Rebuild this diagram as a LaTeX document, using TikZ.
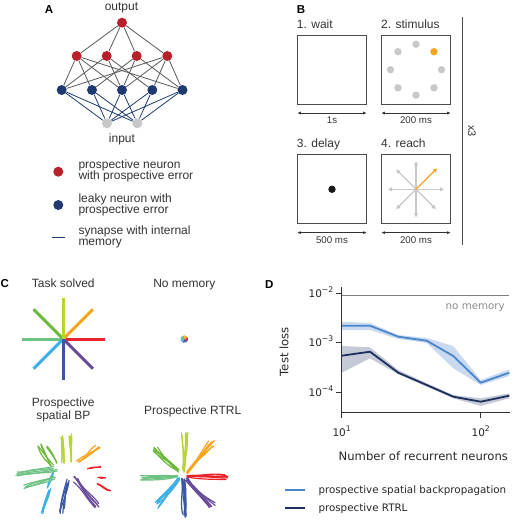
\documentclass[tikz,border=0pt]{standalone}
\usepackage{fontspec}
\setmainfont{Liberation Sans}
\newfontfamily\dejavu{DejaVu Sans}
\usetikzlibrary{arrows.meta,calc}
\definecolor{nred}{HTML}{B8202A}
\definecolor{nblue}{HTML}{1F3A70}
\definecolor{ngray}{HTML}{C8C8C8}
\definecolor{txt}{HTML}{333333}
\definecolor{dtxt}{HTML}{262626}
\definecolor{cor}{HTML}{F7A521}
\definecolor{clime}{HTML}{B6D433}
\definecolor{cgreen}{HTML}{6CB93E}
\definecolor{cmint}{HTML}{6EC283}
\definecolor{cred}{HTML}{E8232A}
\definecolor{cpurple}{HTML}{6B4C9A}
\definecolor{cdblue}{HTML}{3A56A5}
\definecolor{clblue}{HTML}{3BB0E5}
\definecolor{bpline}{HTML}{4A86CC}
\definecolor{bpband}{HTML}{C9DAF0}
\definecolor{rtline}{HTML}{1C2F5E}
\definecolor{rtband}{HTML}{C5CAD7}
\newcommand{\tpow}[1]{10\raisebox{0.45em}{\fontsize{7.7}{8}\selectfont #1}}
% color, x1, y1, x2, y2, start spread, end spread, count
\newcommand{\bund}[8]{%
  \foreach \k in {1,...,#8}{%
    \pgfmathsetmacro{\ax}{#2+#6*rand}%
    \pgfmathsetmacro{\ay}{#3+#6*rand}%
    \pgfmathsetmacro{\bx}{#4+#7*rand}%
    \pgfmathsetmacro{\by}{#5+#7*rand}%
    \pgfmathsetmacro{\cxa}{\ax+0.33*(\bx-\ax)+2.6*rand}%
    \pgfmathsetmacro{\cya}{\ay+0.33*(\by-\ay)+2.6*rand}%
    \pgfmathsetmacro{\cxb}{\ax+0.67*(\bx-\ax)+2.6*rand}%
    \pgfmathsetmacro{\cyb}{\ay+0.67*(\by-\ay)+2.6*rand}%
    \draw[scrib,#1] (\ax,\ay) .. controls (\cxa,\cya) and (\cxb,\cyb) .. (\bx,\by);
  }}
\begin{document}
\begin{tikzpicture}[x=1pt,y=-1pt,
  neuron/.style={circle,inner sep=0pt,minimum size=10pt},
  rn/.style={neuron,fill=nred},
  bn/.style={neuron,fill=nblue},
  gn/.style={neuron,fill=ngray},
  lbl/.style={font=\fontsize{12}{14}\selectfont,text=txt,inner sep=0pt},
  small/.style={font=\fontsize{9.7}{11}\selectfont,text=txt,inner sep=0pt},
  panel/.style={font=\bfseries\fontsize{11.5}{13}\selectfont,inner sep=0pt,text=black},
  wgt/.style={draw=black!65, line width=0.8pt},
  syn/.style={draw=nblue, line width=0.8pt},
  taskbox/.style={draw=black!70, line width=1.1pt, minimum size=69pt, inner sep=0pt},
  durarrow/.style={{Latex[length=4pt,width=3pt]}-{Latex[length=4pt,width=3pt]}, line width=0.8pt, draw=txt},
  reacharrow/.style={-{Triangle[length=4pt,width=4pt]}, line width=1.2pt, draw=ngray},
  ray/.style={line width=3pt},
  scrib/.style={line width=1.2pt, line cap=round},
  dlbl/.style={font=\dejavu\fontsize{11.6}{13}\selectfont,text=dtxt,inner sep=0pt},
  dtick/.style={font=\dejavu\fontsize{10.5}{12}\selectfont,text=dtxt,inner sep=0pt},
  dleg/.style={font=\dejavu\fontsize{10.3}{12}\selectfont,text=dtxt,inner sep=0pt},
  spine/.style={draw=black!80, line width=0.9pt}
]
\useasboundingbox (0,0) rectangle (519,523);

% ---------------- Panel A ----------------
\node[panel,anchor=base] (pA) at (49,13) {A};
\node[lbl,anchor=base] (tout) at (121.5,10.5) {output};
\node[rn] (o) at (122,22.7) {};
\node[rn] (r1) at (76.7,56) {};
\node[rn] (r2) at (106.7,56) {};
\node[rn] (r3) at (136.7,56) {};
\node[rn] (r4) at (167.3,56) {};
\node[bn] (b1) at (61.7,90) {};
\node[bn] (b2) at (92,90) {};
\node[bn] (b3) at (122,90) {};
\node[bn] (b4) at (152.3,90) {};
\node[bn] (b5) at (182.5,90) {};
\node[gn] (i1) at (107,123.3) {};
\node[gn] (i2) at (137.3,123.3) {};
\node[lbl,anchor=base] (tin) at (122,142.5) {input};
\foreach \r in {r1,r2,r3,r4} \draw[wgt] (o) -- (\r);
\foreach \r/\b in {r1/b1,r1/b2,r1/b3,r1/b5,r2/b1,r2/b3,r2/b4,r3/b2,r3/b3,r3/b5,r4/b1,r4/b3,r4/b4,r4/b5}
  \draw[wgt] (\r) -- (\b);
\foreach \b in {b1,b2,b3,b4,b5} {\draw[syn] (\b) -- (i1); \draw[syn] (\b) -- (i2);}

% legend A
\node[rn] (lr) at (58.3,171.7) {};
\node[lbl,anchor=base west] (l1) at (78.3,168.2) {prospective neuron};
\node[lbl,anchor=base west] (l2) at (78.3,179) {with prospective error};
\node[bn] (lb) at (58.3,205) {};
\node[lbl,anchor=base west] (l3) at (78.3,202.5) {leaky neuron with};
\node[lbl,anchor=base west] (l4) at (78.3,213.8) {prospective error};
\coordinate (ls1) at (51.7,237.7);
\coordinate (ls2) at (65,237.7);
\draw[syn] (ls1) -- (ls2);
\node[lbl,anchor=base west] (l5) at (78.3,234.2) {synapse with internal};
\node[lbl,anchor=base west] (l6) at (78.3,245.8) {memory};

% ---------------- Panel B ----------------
\node[panel,anchor=base] (pB) at (301,13) {B};
\node[lbl,anchor=base west] (tw) at (296.7,28.3) {1. wait};
\node[lbl,anchor=base west] (ts) at (381,28.3) {2. stimulus};
\node[lbl,anchor=base west] (td) at (296.7,147.3) {3. delay};
\node[lbl,anchor=base west] (tr) at (381,147.3) {4. reach};
\node[taskbox] (bw) at (332,69.7) {};
\node[taskbox] (bs) at (416,69.7) {};
\node[taskbox] (bd) at (332,189.3) {};
\node[taskbox] (br) at (416,189.3) {};
\foreach \bx/\txt in {bw/1s,bs/200 ms,bd/500 ms,br/200 ms}{
  \draw[durarrow] ([yshift=-8.3pt]\bx.south west) -- ([yshift=-8.3pt]\bx.south east);
  \node[small,anchor=base] at ([yshift=-19pt]\bx.south) {\txt};
}
% stimulus dots
\foreach \a in {0,45,90,135,180,225,270}
  \fill[ngray] ($(bs.center)+(\a:25.5)$) circle[radius=3.7pt];
\fill[cor] ($(bs.center)+(-45:25.5)$) circle[radius=3.7pt];
% delay dot
\fill[black!90] (bd.center) circle[radius=3.7pt];
% reach arrows
\foreach \a in {0,45,90,135,180,225,270}
  \draw[reacharrow] (br.center) -- ++(\a:28);
\draw[reacharrow,draw=cor] (br.center) -- ++(-45:29.7);
% separator
\coordinate (vs1) at (462.3,17);
\coordinate (vs2) at (462.3,245);
\draw[draw=black!70,line width=0.8pt] (vs1) -- (vs2);
\node[lbl,rotate=-90,font=\fontsize{11}{12}\selectfont] (x3) at (472,131) {x3};

% ---------------- Panel C ----------------
\node[panel,anchor=base west] (pC) at (0.5,287.3) {C};
\node[lbl,anchor=base] (tts) at (63.3,287.3) {Task solved};
\node[lbl,anchor=base] (tnm) at (184.3,287.3) {No memory};
\coordinate (sc) at (63.3,339);
\draw[ray,cred] (sc) -- ++(0:41.5);
\draw[ray,cpurple] (sc) -- ++(45:42);
\draw[ray,cmint] (sc) -- ++(180:41);
\draw[ray,clblue] (sc) -- ++(135:42);
\draw[ray,cgreen] (sc) -- ++(-135:42);
\draw[ray,cor] (sc) -- ++(-45:42);
\draw[ray,clime] (sc) -- ++(-90:41.3);
\draw[ray,cdblue] (sc) -- ++(90:40.5);
% no memory dot
\coordinate (nm) at (184.3,339);
\begin{scope}[shift={(nm)},x=1pt,y=1pt]
  \fill[cmint] (0,0) -- (90:3.8) arc[start angle=90,end angle=200,radius=3.8] -- cycle;
  \fill[clblue] (0,0) -- (200:3.8) arc[start angle=200,end angle=250,radius=3.8] -- cycle;
  \fill[cdblue] (0,0) -- (250:3.8) arc[start angle=250,end angle=300,radius=3.8] -- cycle;
  \fill[cpurple] (0,0) -- (300:3.8) arc[start angle=300,end angle=340,radius=3.8] -- cycle;
  \fill[cred] (0,0) -- (340:3.8) arc[start angle=340,end angle=390,radius=3.8] -- cycle;
  \fill[cor] (0,0) -- (30:3.8) arc[start angle=30,end angle=90,radius=3.8] -- cycle;
\end{scope}

\node[lbl,anchor=base] (tp1) at (63.3,406.9) {Prospective};
\node[lbl,anchor=base] (tp2) at (63.3,419.3) {spatial BP};
\node[lbl,anchor=base] (tp3) at (192.7,414.6) {Prospective RTRL};

\pgfmathsetseed{12}
% BP scribbles
\bund{clime}{63}{462}{62}{435}{2}{2.5}{4}
\bund{clime}{70}{462}{71}{436}{1.5}{2.5}{4}
\bund{cgreen}{52}{466}{39}{446}{2}{2.5}{4}
\bund{cgreen}{56}{462}{47}{447}{1.5}{2}{2}
\bund{cor}{78}{463}{98}{447}{2}{2.5}{4}
\bund{cred}{88}{468}{100}{467}{0.8}{0.8}{2}
\bund{cred}{98}{477}{105}{478}{0.6}{0.6}{2}
\bund{cred}{98}{484}{110}{490}{0.8}{0.8}{2}
\bund{cpurple}{75}{479}{96}{506}{3}{3}{6}
\bund{cdblue}{68}{481}{62}{511}{2}{2.5}{5}
\bund{clblue}{50}{490}{42}{513}{1.5}{1.5}{3}
\bund{clblue}{54}{472}{47}{487}{1.2}{1.2}{2}
\bund{cmint}{55}{469}{18}{474}{2.5}{2.5}{5}
\bund{cmint}{54}{478}{26}{486}{2}{2.5}{4}
% RTRL scribbles
\bund{clime}{184}{471}{185}{435}{1.5}{3.5}{7}
\bund{cor}{187}{472}{211}{444}{1.5}{3.5}{7}
\bund{cred}{188}{476}{225}{477}{1.5}{3}{7}
\bund{cpurple}{187}{479}{212}{505}{1.5}{3.5}{7}
\bund{cdblue}{183}{480}{183}{515}{1.5}{3.5}{7}
\bund{clblue}{179}{479}{157}{505}{1.5}{3.5}{7}
\bund{cmint}{177}{476}{142}{477}{1.5}{3}{7}
\bund{cgreen}{178}{471}{155}{449}{1.5}{3.5}{7}

% ---------------- Panel D ----------------
\node[panel,anchor=base west] (pD) at (265,288.3) {D};
% bands
\fill[bpband] (341.7,321.7) -- (370,323) -- (398.3,335) -- (426.7,338) -- (453.3,346) -- (480.7,380) -- (509.3,369.3)
  -- (509.3,376) -- (480.7,385) -- (453.3,368.3) -- (426.7,343) -- (398.3,339) -- (370,330) -- (341.7,330) -- cycle;
\fill[rtband] (341.7,346) -- (370,347.3) -- (398.3,370) -- (426.7,383.3) -- (453.3,395) -- (480.7,398.3) -- (509.3,393.3)
  -- (509.3,398.3) -- (480.7,406) -- (453.3,398.3) -- (426.7,386.7) -- (398.3,374.3) -- (370,358.3) -- (341.7,372.7) -- cycle;
% lines
\draw[bpline,line width=1.8pt,line join=round] (341.7,325.7) -- (370,325.7) -- (398.3,336.7) -- (426.7,340.7) -- (453.3,356) -- (480.7,382.7) -- (509.3,372.7);
\draw[rtline,line width=1.8pt,line join=round] (341.7,355.7) -- (370,351.7) -- (398.3,372.7) -- (426.7,385) -- (453.3,396.7) -- (480.7,401.7) -- (509.3,395.7);
% no memory
\coordinate (nm1) at (341.7,295.7);
\coordinate (nm2) at (509.3,295.7);
\draw[black!50,line width=1.5pt] (nm1) -- (nm2);
\node[dleg,anchor=base east,text=black!45] (tnmem) at (505,309) {no memory};
% spines
\coordinate (ax0) at (341.7,412.3);
\coordinate (axt) at (341.7,287);
\coordinate (axr) at (510,412.3);
\draw[spine] (axt) -- (ax0) -- (axr);
\foreach \y/\e in {293.3/−2,342.7/−3,392.7/−4}{
  \draw[spine] (336,\y) -- (341.7,\y);
  \node[dtick,anchor=base east] at (333.5,\y+3.9) {\tpow{\e}};
}
\foreach \x/\e in {341.7/1,480.7/2}{
  \draw[spine] (\x,412.3) -- (\x,418);
  \node[dtick,anchor=base] at (\x,436.7) {\tpow{\e}};
}
\node[dlbl,rotate=90] (tl) at (284,351.7) {Test loss};
\node[dlbl,anchor=base] (tx) at (423.3,460) {Number of recurrent neurons};
% legend D
\coordinate (lg1a) at (285,490);
\coordinate (lg1b) at (305,490);
\coordinate (lg2a) at (285,508.3);
\coordinate (lg2b) at (305,508.3);
\draw[bpline,line width=1.8pt] (lg1a) -- (lg1b);
\draw[rtline,line width=1.8pt] (lg2a) -- (lg2b);
\node[dleg,anchor=base west] (lg1) at (318.3,493.5) {prospective spatial backpropagation};
\node[dleg,anchor=base west] (lg2) at (318.3,511.8) {prospective RTRL};
\end{tikzpicture}
\end{document}
